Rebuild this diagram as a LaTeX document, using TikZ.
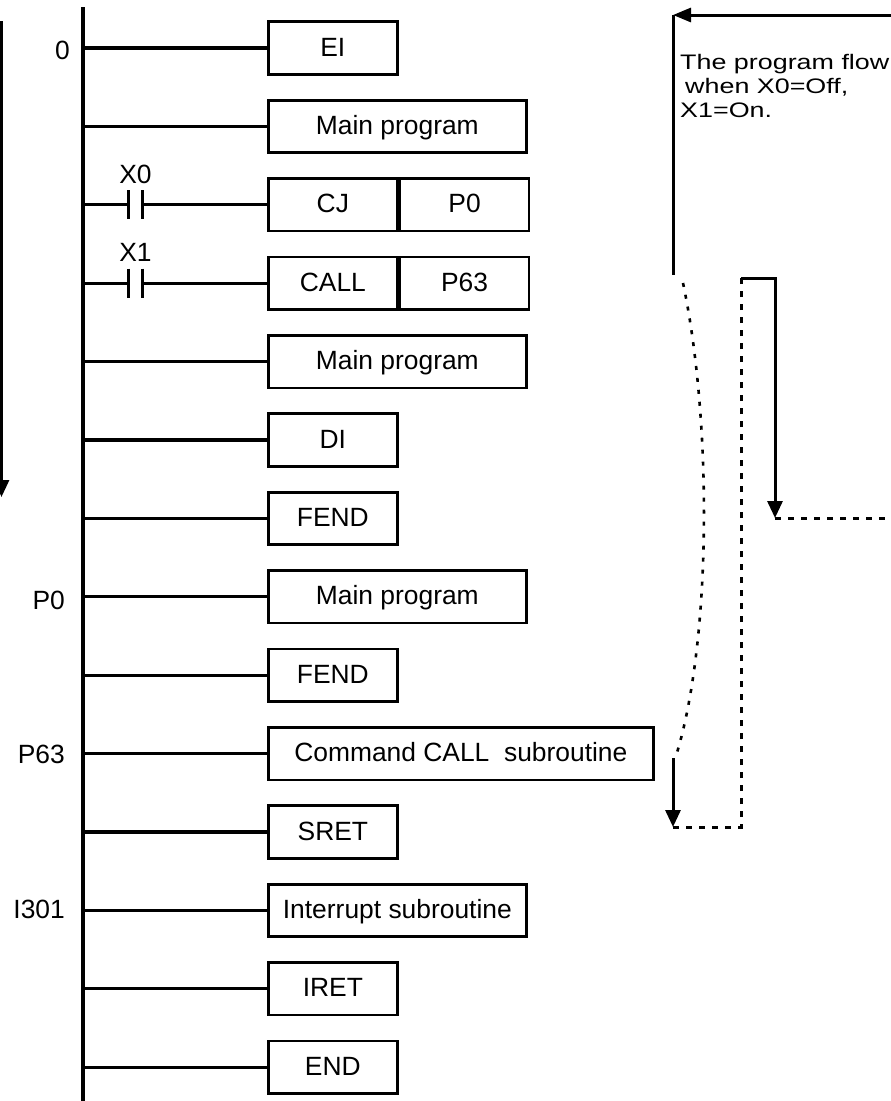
\documentclass[tikz,border=0pt]{standalone}
\usepackage{fontspec}
\setmainfont{Liberation Sans}
\newfontfamily\flowfont[FakeStretch=1.28]{Liberation Sans}
\usetikzlibrary{arrows.meta,positioning}
\newcommand{\rowgap}{78.4}

\begin{document}
\begin{tikzpicture}[x=1pt, y=-1pt,
  font=\fontsize{26.4}{30}\selectfont,
  instr/.style={draw, line width=2.7pt, minimum height=52.5pt, inner sep=0pt,
    text height=19pt, text depth=3pt, anchor=west},
  rung/.style={line width=3.2pt},
  lbl/.style={anchor=east, inner sep=0pt},
  flow/.style={line width=3pt},
  dashflow/.style={line width=3pt, dash pattern=on 6pt off 7pt},
  flowtip/.style={-{Triangle[length=17pt, width=15pt]}}]
\useasboundingbox (0,0) rectangle (891,1101);
% ---------------- power rail and plain rungs ----------------
\coordinate (bustop) at (83,7);
\coordinate (busbot) at (83,1101);
\draw[rung] (bustop) -- (busbot);
\foreach \n/\r/\txt/\bw in {ei/0/EI/129, main1/1/Main program/258,
    main2/4/Main program/258, di/5/DI/129, fend1/6/FEND/129,
    main3/7/Main program/258, fend2/8/FEND/129,
    sub/9/Command CALL\ \ subroutine/385, sret/10/SRET/129,
    isub/11/Interrupt subroutine/258, iret/12/IRET/129, endi/13/END/129}{
  \node[instr, minimum width=\bw] (\n) at (267,{48+\rowgap*\r}) {\txt};
  \draw[rung] (\n.west -| bustop) -- (\n.west);
}
% ---------------- rungs with a contact ----------------
\foreach \n/\r/\op/\lab/\arg in {cj/2/CJ/X0/P0, call/3/CALL/X1/P63}{
  \node[instr, minimum width=129] (\n) at (267,{48+\rowgap*\r}) {\op};
  \node[instr, minimum width=129] (\n2) at (\n.east) {\arg};
  \coordinate (\n a) at (128.5,{48+\rowgap*\r});
  \coordinate (\n b) at (142.3,{48+\rowgap*\r});
  \draw[rung] (\n.west -| bustop) -- (\n a);
  \draw[rung] (\n a) ++(0,-14.5) -- ++(0,29);
  \draw[rung] (\n b) ++(0,-14.5) -- ++(0,29);
  \draw[rung] (\n b) -- (\n.west);
  \node (\n x) at (135.5,{48+\rowgap*\r-30.5}) {\lab};
}
% step labels
\node[lbl] (lab0) at (70,50) {0};
\node[lbl] (labp0) at (65,{48+\rowgap*7+4}) {P0};
\node[lbl] (labp63) at (65,{48+\rowgap*9+1}) {P63};
\node[lbl] (labi301) at (65,{48+\rowgap*11-1}) {I301};
% ---------------- program flow arrows ----------------
\coordinate (ltop) at (1.5,21);
\coordinate (lbot) at (1.5,497);
\draw[flow, flowtip] (ltop) -- (lbot);
\coordinate (rtop) at (891,15);
\coordinate (rcorner) at (673,15);
\coordinate (rleft) at (673,275);
\draw[flow, -{Triangle[length=18pt, width=14pt]}] (rtop) -- (rcorner);
\draw[flow] (rcorner) -- (rleft);
\node[anchor=north west, align=left, inner sep=0pt,
  font=\flowfont\fontsize{21}{24}\selectfont] (note) at (680,54)
  {The program flow\\\hspace{5pt}when X0=Off,\\X1=On.};
% jump to P63 and return
\coordinate (cstart) at (683,283);
\coordinate (cend) at (676,756);
\draw[dashflow, dash pattern=on 4pt off 8pt, line width=2.6pt]
  (cstart) .. controls (712,420) and (712,640) .. (cend);
\coordinate (subtop) at (673,758);
\coordinate (subbot) at (673,827);
\coordinate (retlow) at (741,827);
\coordinate (rethigh) at (741,278);
\coordinate (backtop) at (775,278);
\coordinate (backbot) at (775,518);
\coordinate (rright) at (891,518);
\draw[flow, flowtip] (subtop) -- (subbot);
\draw[dashflow] (subbot) -- (retlow) -- (rethigh);
\draw[flow, flowtip] (rethigh) -- (backtop) -- (backbot);
\draw[dashflow] (backbot) -- (rright);
\end{tikzpicture}
\end{document}
